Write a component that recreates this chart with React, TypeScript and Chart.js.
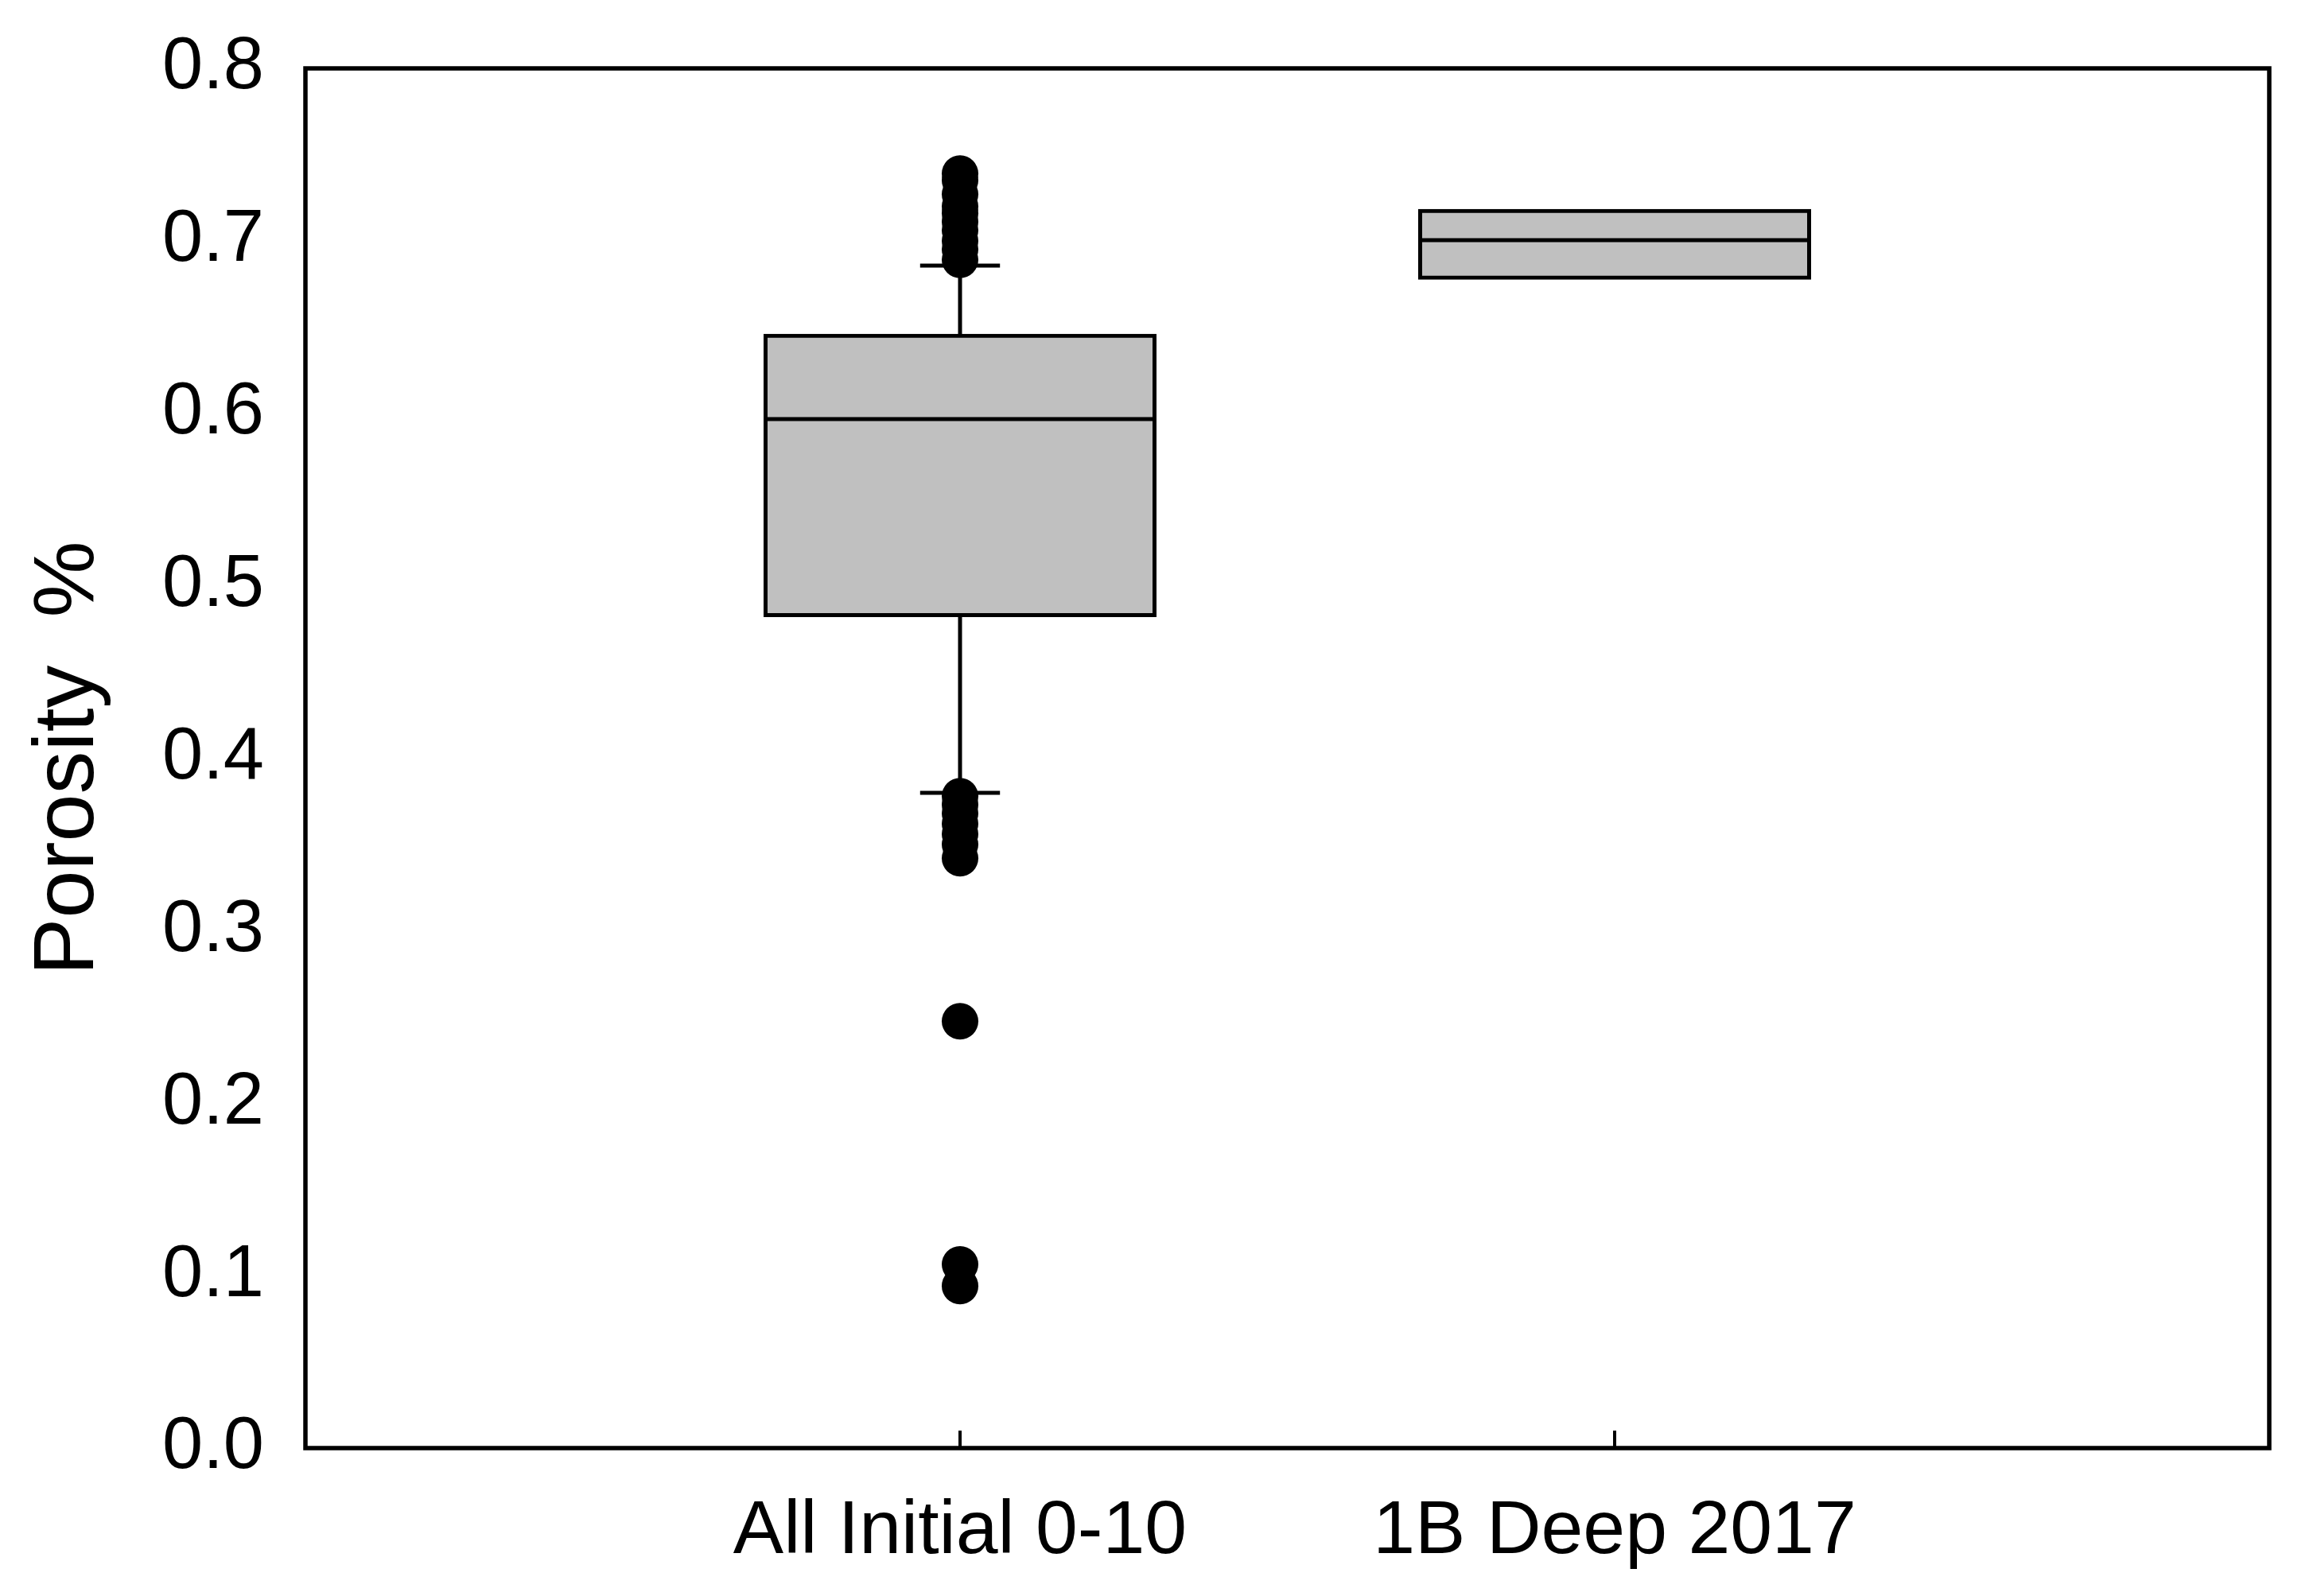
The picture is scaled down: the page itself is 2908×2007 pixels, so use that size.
import React, { useEffect, useRef } from 'react';
import { Chart, registerables } from 'chart.js';

Chart.register(...registerables);

// ---- data ----
const categories = ['All Initial 0-10', '1B Deep 2017'];
const categoryX = [1, 2];
const q1Values = [0.483, 0.6786];
const medianValues = [0.5967, 0.7004];
const q3Values = [0.645, 0.7173];
const lowerWhisker: (number | null)[] = [0.38, null];
const upperWhisker: (number | null)[] = [0.6856, null];
const outliersAllInitial = [
  0.739, 0.735, 0.727, 0.72, 0.716, 0.711, 0.706, 0.7, 0.695, 0.689,
  0.378, 0.373, 0.368, 0.362, 0.356, 0.35, 0.342,
  0.2475, 0.1065, 0.094,
];
const outliers1BDeep: number[] = [];
const yTickValues = [0, 0.1, 0.2, 0.3, 0.4, 0.5, 0.6, 0.7, 0.8];
const yTitle = 'Porosity  %';

const FONT = "'Liberation Sans', Arial, Helvetica, sans-serif";
const BOX_HALF = 0.3; // x units
const CAP_HALF = 0.061; // x units

const framePlugin = {
  id: 'frameAndTicks',
  afterDraw(chart: any) {
    const { ctx, chartArea } = chart;
    const xs = chart.scales.x;
    ctx.save();
    ctx.strokeStyle = '#000';
    ctx.lineWidth = 5.5;
    ctx.strokeRect(chartArea.left, chartArea.top, chartArea.right - chartArea.left, chartArea.bottom - chartArea.top);
    ctx.lineWidth = 4;
    categoryX.forEach((v) => {
      const px = xs.getPixelForValue(v);
      ctx.beginPath();
      ctx.moveTo(px, chartArea.bottom);
      ctx.lineTo(px, chartArea.bottom - 22);
      ctx.stroke();
    });
    ctx.restore();
  },
};

export default function App() {
  const ref = useRef<HTMLCanvasElement>(null);

  useEffect(() => {
    if (!ref.current) return;

    const segments: { x: number; y: number }[][] = [];
    categoryX.forEach((cx, i) => {
      segments.push([
        { x: cx - BOX_HALF, y: medianValues[i] },
        { x: cx + BOX_HALF, y: medianValues[i] },
      ]);
      const hi = upperWhisker[i];
      if (hi !== null) {
        segments.push([{ x: cx, y: q3Values[i] }, { x: cx, y: hi }]);
        segments.push([{ x: cx - CAP_HALF, y: hi }, { x: cx + CAP_HALF, y: hi }]);
      }
      const lo = lowerWhisker[i];
      if (lo !== null) {
        segments.push([{ x: cx, y: q1Values[i] }, { x: cx, y: lo }]);
        segments.push([{ x: cx - CAP_HALF, y: lo }, { x: cx + CAP_HALF, y: lo }]);
      }
    });

    const outlierPoints = [
      ...outliersAllInitial.map((y) => ({ x: categoryX[0], y })),
      ...outliers1BDeep.map((y) => ({ x: categoryX[1], y })),
    ];

    const datasets: any[] = [
      {
        type: 'bar',
        data: categoryX.map((x, i) => ({ x, y: [q1Values[i], q3Values[i]] })),
        backgroundColor: '#c0c0c0',
        borderColor: '#000',
        borderWidth: 5,
        borderSkipped: false,
        barThickness: 489,
        inflateAmount: 2.5,
        order: 3,
      },
      ...segments.map((seg) => ({
        type: 'line',
        data: seg,
        borderColor: '#000',
        borderWidth: 5,
        pointRadius: 0,
        fill: false,
        order: 2,
      })),
      {
        type: 'scatter',
        data: outlierPoints,
        pointRadius: 23,
        pointBackgroundColor: '#000',
        pointBorderColor: '#000',
        pointBorderWidth: 0,
        showLine: false,
        order: 1,
      },
    ];

    const chart = new Chart(ref.current, {
      type: 'bar',
      data: { datasets },
      options: {
        animation: false,
        responsive: false,
        devicePixelRatio: 1,
        events: [],
        layout: { padding: { top: 86, right: 55, left: 0, bottom: 0 } },
        plugins: {
          legend: { display: false },
          tooltip: { enabled: false },
        },
        scales: {
          x: {
            type: 'linear',
            min: 0,
            max: 3,
            offset: false,
            grid: { display: false, drawTicks: false, offset: false },
            border: { display: false },
            afterBuildTicks: (scale: any) => {
              scale.ticks = categoryX.map((v) => ({ value: v }));
            },
            afterFit: (scale: any) => {
              scale.height = 186;
              scale.paddingLeft = 0;
              scale.paddingRight = 0;
            },
            ticks: {
              autoSkip: false,
              maxRotation: 0,
              padding: 49,
              color: '#000',
              font: { family: FONT, size: 95 },
              callback: (v: any) => {
                const idx = categoryX.indexOf(Number(v));
                return idx >= 0 ? categories[idx] : '';
              },
            },
          },
          y: {
            type: 'linear',
            min: 0,
            max: 0.8,
            grid: { display: false, drawTicks: false },
            border: { display: false },
            afterBuildTicks: (scale: any) => {
              scale.ticks = yTickValues.map((v) => ({ value: v }));
            },
            afterFit: (scale: any) => {
              scale.width = 384;
              scale.paddingTop = 0;
              scale.paddingBottom = 0;
            },
            ticks: {
              padding: 52,
              color: '#000',
              font: { family: FONT, size: 92 },
              callback: (v: any) => Number(v).toFixed(1),
            },
            title: {
              display: true,
              text: yTitle,
              color: '#000',
              font: { family: FONT, size: 108 },
              padding: { top: 22, bottom: 0 },
            },
          },
        },
      } as any,
      plugins: [framePlugin],
    });

    return () => chart.destroy();
  }, []);

  return (
    <div style={{ position: 'fixed', left: 0, top: 0, width: 2908, height: 2007, background: '#fff' }}>
      <canvas ref={ref} width={2908} height={2007} style={{ display: 'block' }} />
    </div>
  );
}
